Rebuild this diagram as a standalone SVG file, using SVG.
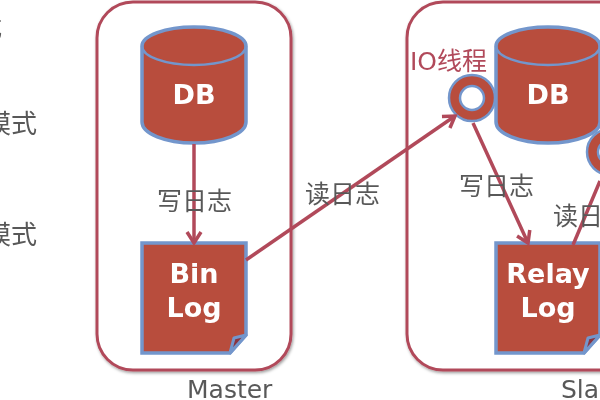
<svg xmlns="http://www.w3.org/2000/svg" width="600" height="400" viewBox="0 0 600 400">
  <defs>
    <filter id="soft" x="-10%" y="-10%" width="120%" height="120%">
      <feDropShadow dx="1" dy="1.5" stdDeviation="1.5" flood-color="#000" flood-opacity="0.4"/>
    </filter>
    <filter id="edge" x="-5%" y="-5%" width="110%" height="110%">
      <feGaussianBlur stdDeviation="0.6"/>
    </filter>
    <marker id="open" markerUnits="userSpaceOnUse" markerWidth="20" markerHeight="20" refX="14" refY="9" orient="auto">
      <path d="M3 2 L14 9 L3 16" fill="none" stroke="#b14a5a" stroke-width="3.5"/>
    </marker>
    <path id="note" d="M0 0H104V92L88 110H0Z"/>
    <path id="cylinder" d="M0 19V95A52 21 0 0 0 104 95V19A52 19 0 0 0 0 19Z"/>
    <path id="lid" d="M0 19A52 19 0 0 0 104 19"/>
    <path id="fold" d="M88 110L92 95L104 92Z"/>
    <g id="ring">
      <circle r="17" fill="#fff" stroke="#b84d3e" stroke-width="11"/>
      <circle r="23" fill="none" stroke="#7396cc" stroke-width="2.5"/>
      <circle r="12" fill="none" stroke="#7396cc" stroke-width="2.5"/>
    </g>
  </defs>
  <style>
    .frame { fill: #fff; stroke: #b14a5a; stroke-width: 3; }
    .shape { fill: #b84d3e; stroke: #7396cc; stroke-width: 3.5; }
    .lid { fill: none; stroke: #7396cc; stroke-width: 2.5; }
    .fold { fill: #8a3440; stroke: #7396cc; stroke-width: 3; stroke-linejoin: round; }
    .link { fill: none; stroke: #b14a5a; stroke-width: 3.5; }
    text { font-family: "DejaVu Sans", "Noto Sans CJK SC", sans-serif; }
    .title { font-size: 27px; font-weight: 700; fill: #fff; text-anchor: middle; }
    .note { font-size: 25px; fill: #595959; }
    .side { font-size: 26px; fill: #595959; }
    .io { font-size: 25px; fill: #b14a5a; }
  </style>

  <g filter="url(#edge)">
    <text class="side" x="-24" y="37">式</text>
    <text class="side" x="-15" y="133">模式</text>
    <text class="side" x="-15" y="244">模式</text>

    <g id="master">
      <rect class="frame" x="97" y="2" width="194" height="368" rx="36" filter="url(#soft)"/>
      <text class="note" x="187" y="398">Master</text>
    </g>
    <g id="slave">
      <rect class="frame" x="407" y="2" width="240" height="368" rx="36" filter="url(#soft)"/>
      <text class="note" x="561" y="398">Slave</text>
    </g>

    <g id="master-db" transform="translate(142 27)">
      <use href="#cylinder" class="shape"/>
      <use href="#lid" class="lid"/>
      <text class="title" x="52" y="77">DB</text>
    </g>
    <g id="bin-log" transform="translate(142 243)">
      <use href="#note" class="shape"/>
      <use href="#fold" class="fold"/>
      <text class="title" x="52" y="40">Bin</text>
      <text class="title" x="52" y="74">Log</text>
    </g>
    <g id="slave-db" transform="translate(496 27)">
      <use href="#cylinder" class="shape"/>
      <use href="#lid" class="lid"/>
      <text class="title" x="52" y="77">DB</text>
    </g>
    <g id="relay-log" transform="translate(496 243)">
      <use href="#note" class="shape"/>
      <use href="#fold" class="fold"/>
      <text class="title" x="52" y="40">Relay</text>
      <text class="title" x="52" y="74">Log</text>
    </g>
    <g id="io-thread">
      <use href="#ring" x="472" y="98"/>
      <text class="io" x="410" y="70">IO线程</text>
    </g>
    <g id="sql-thread">
      <use href="#ring" x="610" y="152"/>
    </g>

    <g id="connectors">
      <path class="link" marker-end="url(#open)" d="M194 144V243"/>
      <path class="link" marker-end="url(#open)" d="M246 260L455 116"/>
      <path class="link" marker-end="url(#open)" d="M473 123L528 243"/>
      <path class="link" d="M573 245L600 181"/>
    </g>

    <text class="note" x="157" y="210">写日志</text>
    <text class="note" x="305" y="203">读日志</text>
    <text class="note" x="459" y="195">写日志</text>
    <text class="note" x="553" y="225">读日志</text>
  </g>
</svg>
